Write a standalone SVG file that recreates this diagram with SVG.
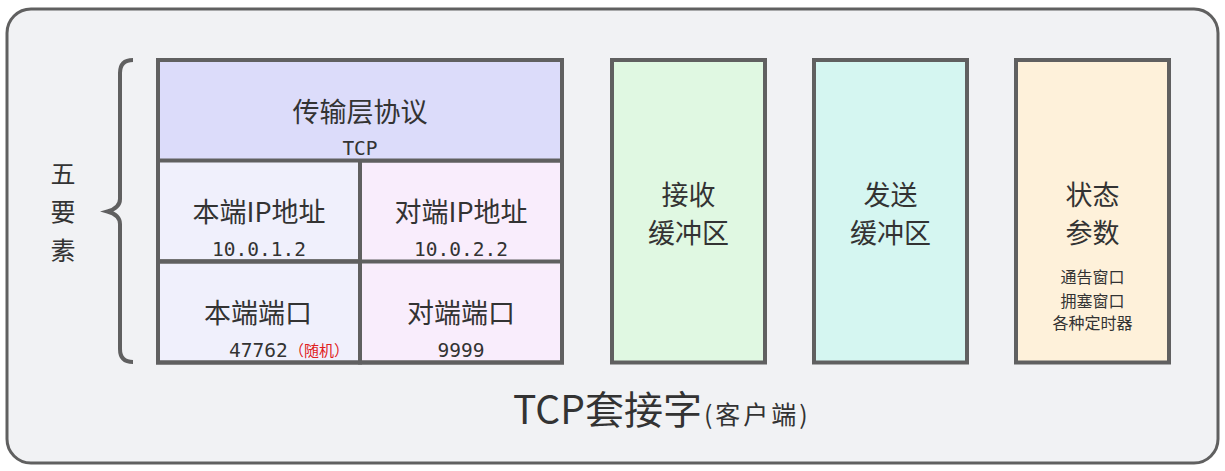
<svg xmlns="http://www.w3.org/2000/svg" width="1225" height="471" viewBox="0 0 1225 471">
<style>
.box{stroke:#606060;stroke-width:4}
.cjk{font-family:"Noto Sans CJK SC","Noto Sans",sans-serif;fill:#333333;text-anchor:middle}
.mono{font-family:"DejaVu Sans Mono","Liberation Mono",monospace;fill:#333333;text-anchor:middle;font-size:19.5px}
.big{font-size:27px}
.small{font-size:16px}
</style>
<rect width="1225" height="471" fill="#ffffff"/>
<g id="socket">
<rect x="7" y="9" width="1211" height="454" rx="24" fill="#f1f2f4" stroke="#606060" stroke-width="3"/>
<text class="cjk" x="513" y="424" style="text-anchor:start;font-size:39px">TCP套接字<tspan dx="2" style="font-size:25px;letter-spacing:3px">(客户端)</tspan></text>
</g>
<g id="five-elements">
<text class="cjk" x="63" y="182.5" style="font-size:25px">五</text>
<text class="cjk" x="63" y="221" style="font-size:25px">要</text>
<text class="cjk" x="63" y="259.5" style="font-size:25px">素</text>
<path d="M133 60 Q120 60 120 73 L120 199 Q120 208 107.5 211.5 Q120 215 120 224 L120 349 Q120 362 133 362" fill="none" stroke="#606060" stroke-width="4"/>
</g>
<g id="tuple">
<rect class="box" x="158" y="60" width="202" height="201.5" fill="#f0f0fc"/>
<rect class="box" x="360" y="160.5" width="202" height="202" fill="#f9edfc"/>
<rect class="box" x="158" y="261.5" width="202" height="101" fill="#f0f0fc"/>
<rect class="box" x="158" y="60" width="404" height="100.5" fill="#dcdcfa"/>
<rect x="158" y="60" width="404" height="302.5" fill="none" stroke="#606060" stroke-width="4"/>
<line x1="158" y1="261.5" x2="562" y2="261.5" stroke="#606060" stroke-width="4"/>
<line x1="360" y1="160.5" x2="360" y2="362.5" stroke="#606060" stroke-width="4"/>
</g>
<g id="protocol">
<text class="cjk big" x="360" y="122">传输层协议</text>
<text class="mono" x="360" y="155">TCP</text>
</g>
<g id="local-ip">
<text class="cjk big" x="259" y="222">本端IP地址</text>
<text class="mono" x="259" y="256">10.0.1.2</text>
</g>
<g id="remote-ip">
<text class="cjk big" x="461" y="222">对端IP地址</text>
<text class="mono" x="461" y="256">10.0.2.2</text>
</g>
<g id="local-port">
<text class="cjk big" x="258" y="323">本端端口</text>
<text class="mono" x="229" y="357" style="text-anchor:start">47762</text>
<text x="289" y="356" style="font-family:'Noto Sans CJK SC',sans-serif;font-size:15px;fill:#e02020">（随机）</text>
</g>
<g id="remote-port">
<text class="cjk big" x="461" y="323">对端端口</text>
<text class="mono" x="461" y="357">9999</text>
</g>
<g id="recv-buffer">
<rect class="box" x="612" y="60" width="153" height="302.5" fill="#e0f8e2"/>
<text class="cjk big" x="688.5" y="205">接收</text>
<text class="cjk big" x="688.5" y="243">缓冲区</text>
</g>
<g id="send-buffer">
<rect class="box" x="814" y="60" width="153" height="302.5" fill="#d5f6f1"/>
<text class="cjk big" x="890.5" y="205">发送</text>
<text class="cjk big" x="890.5" y="243">缓冲区</text>
</g>
<g id="state">
<rect class="box" x="1016" y="60" width="153" height="302.5" fill="#fef1da"/>
<text class="cjk big" x="1092.5" y="205">状态</text>
<text class="cjk big" x="1092.5" y="243">参数</text>
<text class="cjk small" x="1092.5" y="283">通告窗口</text>
<text class="cjk small" x="1092.5" y="306.5">拥塞窗口</text>
<text class="cjk small" x="1092.5" y="329">各种定时器</text>
</g>
<g id="connectors"></g>
</svg>
